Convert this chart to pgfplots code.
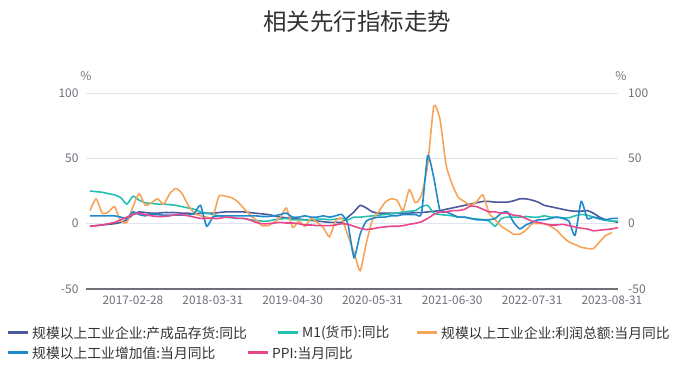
\documentclass[border=0pt]{standalone}
\usepackage{fontspec}
\setmainfont{Noto Sans CJK SC}
\usepackage{pgfplots}
\usepackage{pgfplotstable}
\pgfplotsset{compat=1.18}
\definecolor{cinv}{HTML}{4A5A9C}
\definecolor{cm1}{HTML}{26C0B2}
\definecolor{cprof}{HTML}{F5A45A}
\definecolor{civa}{HTML}{1F8ACB}
\definecolor{cppi}{HTML}{E8488B}
\definecolor{axgray}{HTML}{6E7079}
\definecolor{gridc}{HTML}{E0E6F1}
\definecolor{txt}{HTML}{333333}

% x = month index, 0 = 2017-02
\pgfplotstableread{
x y
-7 -2
-6 -1.5
-5 -1
-4 -0.5
-3 0
-2 1
-1 3
0 7
1 9
2 8.5
3 8
4 8
5 8.5
6 8.5
7 8.5
8 8
9 8
10 7.5
11 8
12 8
13 8
14 8.5
15 9
16 9
17 9
18 9
19 8.5
20 8
21 7.5
22 7
23 6
24 5
25 4.5
26 4
27 3.5
28 3
29 2.5
30 2
31 1.5
32 1
33 1
34 1
35 5
36 9
37 14
38 12
39 9
40 8
41 8
42 8
43 8
44 8
45 8
46 8.5
47 8.5
48 9
49 9.5
50 10
51 11
52 12
53 13
54 14
55 15
56 16
57 17
58 17
59 16.5
60 16.5
61 16.5
62 17.5
63 19
64 19
65 18
66 16.5
67 14
68 13
69 12
70 11
71 10
72 9.5
73 9.5
74 10
75 8
76 5
77 3
78 2
79 1
}\tinv

\pgfplotstableread{
x y
-7 25
-6 24.5
-5 24
-4 23
-3 22
-2 20
-1 15
0 21
1 18
2 16
3 15.5
4 15
5 15
6 14.5
7 14
8 13
9 12
10 11
11 9
12 8
13 7
14 6
15 5
16 4.5
17 4
18 4
19 3
20 2.5
21 2
22 2
23 3
24 3.5
25 4
26 3
27 3
28 3
29 3
30 3.5
31 3.5
32 3
33 3.5
34 4
35 3
36 5
37 5
38 5.5
39 6
40 6.5
41 7
42 7.5
43 8
44 9
45 9.5
46 10
47 13
48 14
49 8
50 7
51 6.5
52 6
53 5
54 5
55 4
56 3.5
57 3
58 2
59 -2
60 4
61 5
62 5
63 5
64 5.5
65 5
66 5
67 6
68 5
69 5
70 4.5
71 4.5
72 6
73 7
74 6.5
75 5
76 3.5
77 2.5
78 2
79 2
}\tmone

\pgfplotstableread{
x y
-7 10
-6 19
-5 8
-4 9
-3 13
-2 2
-1 1
0 13
1 23
2 14
3 16
4 19
5 15
6 23
7 27
8 23
9 14
10 8
11 6
12 5
13 5
14 21
15 21
16 20
17 17
18 12
19 7
20 3
21 -1.5
22 -1.5
23 1
24 5
25 12
26 -3
27 2
28 -2
29 4
30 1
31 -3
32 -10
33 2
34 4
35 -9
36 -22
37 -36
38 -15
39 3
40 9
41 16
42 19
43 18
44 10
45 26
46 16
47 22
48 45
49 90
50 80
51 45
52 30
53 20
54 17
55 14
56 17
57 22
58 8
59 3
60 -2
61 -5
62 -8
63 -8
64 -5
65 0
66 0
67 0
68 -2
69 -5
70 -10
71 -14
72 -16
73 -18
74 -19
75 -19
76 -14
77 -9
78 -7
}\tprof

\pgfplotstableread{
x y
-7 6
-6 6
-5 6
-4 6
-3 6
-2 5
-1 4
0 9
1 7
2 6
3 7
4 7
5 6.5
6 6.5
7 6.5
8 6.5
9 6.5
10 8
11 14
12 -2
13 5
14 6
15 6
16 6
17 6
18 6
19 6
20 6
21 5.5
22 5.5
23 6
24 7
25 8
26 5
27 5
28 6
29 5
30 5
31 6
32 5
33 6
34 7
35 0
36 -26
37 -8
38 2
39 4
40 5
41 5
42 6
43 6
44 7
45 7
46 7
47 8
48 52
49 35
50 10
51 9
52 7
53 5
54 5
55 4
56 3
57 3
58 3
59 4
60 8
61 9
62 1
63 -4
64 -1
65 1
66 3
67 3
68 4
69 5
70 4
71 2
72 -9
73 17
74 4
75 5
76 4
77 3
78 4
79 4
}\tiva

\pgfplotstableread{
x y
-7 -2
-6 -1.5
-5 -1
-4 0
-3 1
-2 3
-1 5
0 7
1 8
2 7
3 6
4 5.5
5 5.5
6 6
7 7
8 7
9 6
10 5
11 4
12 4
13 4
14 4
15 5
16 5
17 4
18 4
19 3
20 1
21 0
22 0
23 0.5
24 1
25 0.5
26 0.5
27 0
28 -1
29 -1
30 -1.5
31 -1.5
32 -1.5
33 -1
34 0
35 -0.5
36 -2
37 -3.5
38 -4.5
39 -4
40 -3
41 -2.5
42 -2
43 -2
44 -1.5
45 -0.5
46 0.3
47 1.5
48 4
49 7
50 9
51 9
52 10
53 10
54 11
55 13.5
56 13
57 11
58 9
59 9
60 8
61 8
62 6.5
63 6
64 4
65 2
66 1
67 0
68 -1
69 -1
70 -0.5
71 -1.5
72 -2.5
73 -3.5
74 -4
75 -5.5
76 -5
77 -4.5
78 -4
79 -3
}\tppi

\newcommand{\legitem}[4]{%
  \draw[#3, line width=3bp] (#1bp,#2bp) -- ++(20bp,0);
  \node[anchor=west, inner sep=0pt, text=txt, font=\fontsize{13.8bp}{16bp}\selectfont] at (#1bp+24bp,#2bp) {#4};
}

\begin{document}
\begin{tikzpicture}
\path (0,0) rectangle (689bp,372bp);
\begin{axis}[
  at={(86bp,83bp)}, anchor=south west, scale only axis,
  width=532bp, height=196bp,
  xmin=-7.65, xmax=79, ymin=-50, ymax=100,
  ytick={-50,0,50,100},
  xtick={0,13,26,39,52,65,78},
  xticklabels={2017-02-28,2018-03-31,2019-04-30,2020-05-31,2021-06-30,2022-07-31,2023-08-31},
  major tick length=0pt,
  ymajorgrids, grid style={gridc, line width=0.8pt},
  axis x line*=bottom, axis y line*=left,
  y axis line style={draw=none},
  x axis line style={-, draw=axgray, line width=1.8pt},
  tick label style={font=\fontsize{12bp}{14bp}\selectfont, text=axgray},
  /pgf/number format/assume math mode=true,
  xticklabel style={yshift=-7bp, inner sep=0pt, font=\fontsize{11.8bp}{12bp}\selectfont},
  yticklabel style={xshift=-4bp},
  every axis plot/.append style={line width=1.6pt, smooth, tension=0.35},
]
\addplot[cinv] table[x=x,y=y] {\tinv};
\addplot[cm1] table[x=x,y=y] {\tmone};
\addplot[cprof] table[x=x,y=y] {\tprof};
\addplot[civa] table[x=x,y=y] {\tiva};
\addplot[cppi] table[x=x,y=y] {\tppi};
\end{axis}
\begin{axis}[
  at={(86bp,83bp)}, anchor=south west, scale only axis,
  width=532bp, height=196bp,
  xmin=-7.65, xmax=79, ymin=-50, ymax=100,
  ytick={-50,0,50,100},
  hide x axis, axis y line*=right,
  y axis line style={draw=none},
  major tick length=0pt,
  tick label style={font=\fontsize{12bp}{12bp}\selectfont, text=axgray},
  /pgf/number format/assume math mode=true,
  yticklabel style={xshift=10bp, inner sep=0pt},
]
\addplot[draw=none] coordinates {(0,0)};
\end{axis}
\node[text=axgray, font=\fontsize{12bp}{14bp}\selectfont] at (86bp,296bp) {\%};
\node[text=axgray, font=\fontsize{12bp}{14bp}\selectfont] at (621bp,296bp) {\%};
\node[text=txt, font=\fontsize{23.5bp}{26bp}\selectfont] at (357bp,350bp) {相关先行指标走势};
\legitem{8}{39}{cinv}{规模以上工业企业:产成品存货:同比}
\legitem{278}{39}{cm1}{M1(货币):同比}
\legitem{417}{39}{cprof}{规模以上工业企业:利润总额:当月同比}
\legitem{8}{19}{civa}{规模以上工业增加值:当月同比}
\legitem{248}{19}{cppi}{PPI:当月同比}
\end{tikzpicture}
\end{document}
